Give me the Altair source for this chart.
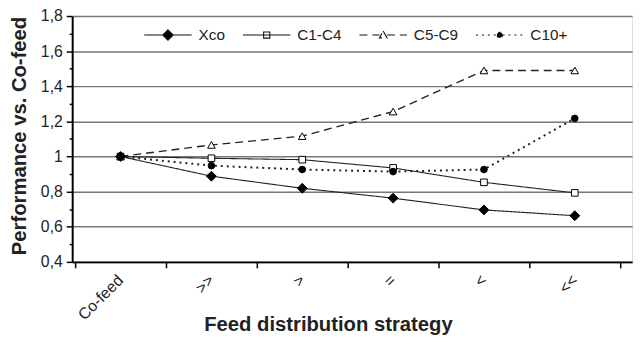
import altair as alt
import pandas as pd

strategies = ["Co-feed", ">>", ">", "=", "<", "<<"]
xco = [1.0, 0.888, 0.819, 0.763, 0.696, 0.663]
c1c4 = [1.0, 0.99, 0.982, 0.935, 0.853, 0.793]
c5c9 = [1.0, 1.066, 1.116, 1.256, 1.49, 1.49]
c10 = [1.0, 0.948, 0.926, 0.914, 0.926, 1.217]
series_names = ["Xco", "C1-C4", "C5-C9", "C10+"]
y_ticks = [round(0.4 + 0.1 * i, 1) for i in range(15)]

values = {"Xco": xco, "C1-C4": c1c4, "C5-C9": c5c9, "C10+": c10}
rows = []
for s in series_names:
    for st, v in zip(strategies, values[s]):
        rows.append({"series": s, "strategy": st, "value": v})
df = pd.DataFrame(rows)

FONT = "Liberation Sans"
dash = {"Xco": [1, 0], "C1-C4": [1, 0], "C5-C9": [8, 5], "C10+": [2, 4]}
lw = {"Xco": 1.1, "C1-C4": 1.1, "C5-C9": 1.4, "C10+": 2.0}
shape = {"Xco": "diamond", "C1-C4": "square", "C5-C9": "triangle-up", "C10+": "circle"}
size = {"Xco": 100, "C1-C4": 45, "C5-C9": 60, "C10+": 45}
fillc = {"Xco": "black", "C1-C4": "white", "C5-C9": "white", "C10+": "black"}

legend_paths = [
    "M-1,0H-0.22M0.22,0H1M0,-0.22L0.22,0L0,0.22L-0.22,0Z",
    "M-1,0H1M-0.13,-0.13H0.13V0.13H-0.13Z",
    "M-1,0H-0.16M0.16,0H1M0,-0.17L0.16,0.12L-0.16,0.12Z",
    "M-1,0H-0.12M0.12,0H1M0.12,0A0.12,0.12,0,1,1,-0.12,0A0.12,0.12,0,1,1,0.12,0Z",
]

xenc = alt.X(
    "strategy:N",
    sort=strategies,
    scale=alt.Scale(type="band", domain=strategies, paddingInner=0, paddingOuter=0.0815, align=0.2),
    axis=alt.Axis(
        title="Feed distribution strategy",
        titleFont=FONT, titleFontSize=20.5, titleFontWeight="bold", titleColor="#222",
        titleX=259, titleY=63, titleBaseline="middle", titleAlign="center",
        labelFont=FONT, labelFontSize=16, labelColor="#222", labelAngle=-45,
        labelPadding=4, labelOffset=-6,
        tickBand="extent", tickSize=6, tickColor="black", tickWidth=1.5,
        domainColor="black", domainWidth=2, grid=False,
    ),
)
yenc = alt.Y(
    "value:Q",
    scale=alt.Scale(domain=[0.4, 1.8], nice=False, zero=False),
    axis=alt.Axis(
        title="Performance vs. Co-feed",
        titleFont=FONT, titleFontSize=20.5, titleFontWeight="bold", titleColor="#222",
        titleX=-53, titleY=121, titleBaseline="middle", titleAlign="center",
        values=y_ticks,
        labelExpr="round(datum.value*10) % 2 == 1 ? '' : (datum.value == 1 ? '1' : replace(format(datum.value, '.1f'), '.', ','))",
        labelFont=FONT, labelFontSize=16, labelColor="#222", labelPadding=4, labelOverlap=False,
        tickSize={"condition": {"test": "round(datum.value*10) % 2 == 1", "value": 3}, "value": 6},
        tickColor="black", tickWidth=1.5,
        domainColor="black", domainWidth=2,
        grid=True, gridColor="#777", gridWidth=1.5,
        gridOpacity={"condition": {"test": "round(datum.value*10) % 2 == 1", "value": 0}, "value": 1},
    ),
)

base = alt.Chart(df)
layers = []
order = ["C1-C4", "C5-C9", "C10+", "Xco"]
for s in order:
    layers.append(
        base.transform_filter(alt.datum.series == s)
        .mark_line(color="#222", strokeWidth=lw[s], strokeDash=dash[s])
        .encode(x=xenc, y=yenc)
    )
for s in order:
    layers.append(
        base.transform_filter(alt.datum.series == s)
        .mark_point(shape=shape[s], size=size[s], filled=True, fill=fillc[s], stroke="black", strokeWidth=1, opacity=1)
        .encode(x=xenc, y=yenc)
    )

leg = alt.Legend(
    title=None, orient="none", direction="horizontal", legendX=72, legendY=-6,
    padding=0, columnPadding=15, symbolSize=2304, symbolStrokeColor="black",
    symbolStrokeWidth=1.1, symbolOpacity=1, labelFont=FONT, labelFontSize=15.5,
    labelColor="#222", labelOffset=6, labelLimit=200,
)
legend_layer = (
    base.transform_filter("false")
    .mark_point(filled=False, strokeWidth=1.1, opacity=1)
    .encode(
        x=xenc, y=yenc,
        shape=alt.Shape("series:N", scale=alt.Scale(domain=series_names, range=legend_paths), legend=leg),
        fill=alt.Fill("series:N", scale=alt.Scale(domain=series_names, range=[fillc[s] for s in series_names]), legend=leg),
        stroke=alt.Stroke("series:N", scale=alt.Scale(domain=series_names, range=["#111"] * 4), legend=leg),
        strokeDash=alt.StrokeDash("series:N", scale=alt.Scale(domain=series_names, range=[dash[s] for s in series_names]), legend=leg),
    )
)
layers.append(legend_layer)

chart = (
    alt.layer(*layers)
    .properties(width=567, height=249, autosize=alt.AutoSizeParams(type="none"),
                padding={"left": 65, "top": 6, "right": 4, "bottom": 79})
    .configure_view(stroke=None)
    .configure(background="white")
)
chart.save("out.html", embed_options={"renderer": "svg", "actions": False})
